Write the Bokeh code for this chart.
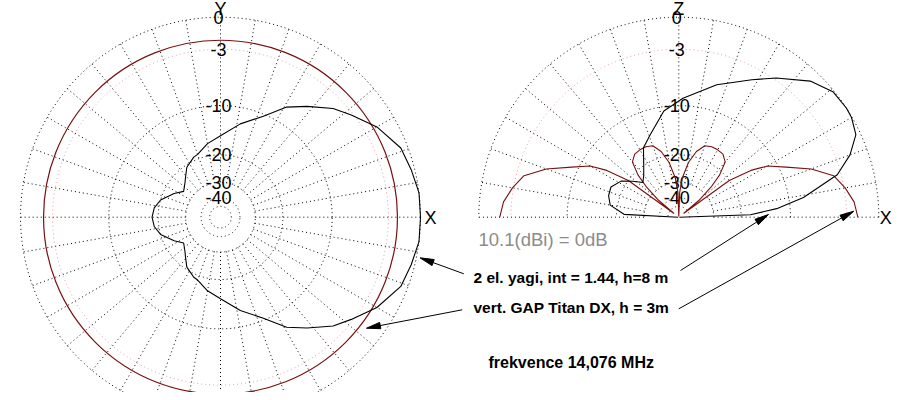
import numpy as np
from bokeh.plotting import figure
from bokeh.models import Range1d
from bokeh.core.properties import value
from bokeh.embed import file_html
from bokeh.resources import INLINE

# ---------------- data ----------------
RING_DB = [0, -3, -10, -20, -30, -40, -50]
RING_LABELS = ["0", "-3", "-10", "-20", "-30", "-40"]
SPOKE_STEP_DEG = 10

# azimuth pattern of the 2 el. yagi (deg from +X, symmetric about X)
AZ_ANGLES = [0, 7, 14, 21, 30, 38, 44, 52, 59, 67, 78, 90, 100, 110, 114,
             124, 131, 136, 145, 153, 164, 172, 180]
YAGI_AZ_DB = [0, 0, -0.3, -0.6, -1.75, -3.2, -4.2, -6.05, -7.6, -10.3, -12.7,
              -15.4, -16.9, -18.8, -19.1, -20.6, -22.7, -24.0, -25.6, -23.1,
              -20.0, -18.8, -18.4]
# azimuth pattern of the vertical (omni)
VERT_AZ_DB = -2.1

# elevation pattern of the yagi (deg from +X horizon, 0..180)
EL_ANGLES_YAGI = [0, 2, 5, 9, 15, 20, 25, 30, 33, 39, 46, 55, 62, 74, 88, 98,
                  109, 117, 124, 130, 136, 142, 148, 156, 163, 170, 177, 180]
YAGI_EL_DB = [-99, -17.6, -12.2, -7.9, -3.4, -1.6, -0.4, -0.05, 0, -0.1, -0.95,
              -2.8, -4.3, -6.4, -8.9, -10.7, -14.2, -16.2, -19.9, -22.3, -23.8,
              -21.1, -18.5, -17.0, -17.2, -18.1, -22.2, -99]

# elevation pattern of the vertical (0..90, symmetric about Z)
EL_ANGLES_VERT = [0, 5, 10, 15, 20, 25, 30, 33, 36, 38, 40, 43, 46, 50, 55,
                  60, 65, 70, 75, 80, 85, 88, 90]
VERT_EL_DB = [-1.9, -2.2, -2.9, -3.8, -6.0, -9.0, -11.5, -14.5, -20, -60, -34,
              -26, -21, -17.5, -16.4, -16.2, -16.2, -16.6, -18.5, -22, -28,
              -36, -99]

REF_TEXT = "10.1(dBi) = 0dB"
YAGI_TEXT = "2 el. yagi, int = 1.44, h=8 m"
VERT_TEXT = "vert. GAP Titan DX, h = 3m"
FREQ_TEXT = "frekvence 14,076 MHz"

# ---------------- layout ----------------
W, H = 896, 392
R = 200.0
C_AZ = (220.0, 216.7)
C_EL = (678.3, 216.7)
RED = "#7a1010"
PINK = "#e4a0a0"
FONT = value("Liberation Sans")


def rad(db):
    return R * 0.89 ** (-np.asarray(db, dtype=float) / 2.0)


def polar(c, ang_deg, r):
    a = np.radians(np.asarray(ang_deg, dtype=float))
    return c[0] + r * np.cos(a), c[1] - r * np.sin(a)


p = figure(width=W, height=H, x_range=Range1d(0, W), y_range=Range1d(H, 0),
           output_backend="svg", toolbar_location=None, min_border=0,
           x_axis_location=None, y_axis_location=None)
p.grid.visible = False
p.outline_line_color = None
p.background_fill_color = "white"
p.border_fill_color = "white"

# ---------- grids ----------
for c, full in ((C_AZ, True), (C_EL, False)):
    t = np.linspace(0, 360 if full else 180, 361)
    for db in RING_DB:
        x, y = polar(c, t, rad(db))
        p.line(x, y, line_color=PINK if db == -3 else "black",
               line_dash="1 3", line_width=1)
    angs = np.arange(0, 360 if full else 181, SPOKE_STEP_DEG)
    xs, ys = [], []
    for a in angs:
        x0, y0 = polar(c, a, rad(-30))
        x1, y1 = polar(c, a, R)
        xs.append([x0, x1])
        ys.append([y0, y1])
    p.multi_line(xs, ys, line_color="black", line_dash="1 3", line_width=1)
    # ring labels
    lx, ly = polar(c, 90, rad(RING_DB[:len(RING_LABELS)]))
    p.text(x=list(lx - 2), y=list(ly), text=RING_LABELS, text_font=FONT,
           text_font_size="18px", text_align="center", text_baseline="middle",
           text_color="black")

# axis letters (Y and Z are cut by the top edge, as in the original)
p.text(x=[C_AZ[0], C_EL[0]], y=[8.5, 8.5], text=["Y", "Z"], text_font=FONT,
       text_font_size="18px", text_align="center", text_baseline="alphabetic")
p.text(x=[C_AZ[0] + R + 10, C_EL[0] + R + 7], y=[C_AZ[1] + 1, C_EL[1] + 1],
       text=["X", "X"], text_font=FONT, text_font_size="18px",
       text_align="center", text_baseline="middle")

# ---------- patterns ----------
# vertical, azimuth (omni circle)
p.circle(x=[C_AZ[0]], y=[C_AZ[1]], radius=float(rad(VERT_AZ_DB)),
         fill_color=None, line_color=RED, line_width=1.2)

# yagi azimuth (mirror about X axis)
az_full = AZ_ANGLES + [360 - a for a in reversed(AZ_ANGLES[:-1])]
db_full = YAGI_AZ_DB + list(reversed(YAGI_AZ_DB[:-1]))
x, y = polar(C_AZ, az_full, rad(db_full))
p.line(x, y, line_color="black", line_width=1.1)

# vertical elevation (mirror about Z)
ve_ang = EL_ANGLES_VERT + [180 - a for a in reversed(EL_ANGLES_VERT[:-1])]
ve_db = VERT_EL_DB + list(reversed(VERT_EL_DB[:-1]))
x, y = polar(C_EL, ve_ang, rad(ve_db))
p.line(x, y, line_color=RED, line_width=1.1)

# yagi elevation
x, y = polar(C_EL, EL_ANGLES_YAGI, rad(YAGI_EL_DB))
p.line(x, y, line_color="black", line_width=1.1)

# ---------- texts ----------
p.text(x=[478], y=[239], text=[REF_TEXT], text_font=FONT, text_font_size="18.5px",
       text_color="#8c8c8c", text_align="left", text_baseline="middle")
p.text(x=[473, 473], y=[276.7, 306.7], text=[YAGI_TEXT, VERT_TEXT],
       text_font=FONT, text_font_size="15.5px", text_font_style="bold",
       text_color="black", text_align="left", text_baseline="middle")
p.text(x=[488], y=[361.7], text=[FREQ_TEXT],
       text_font=FONT, text_font_size="16px", text_font_style="bold",
       text_color="black", text_align="left", text_baseline="middle")

# ---------- arrows ----------
ARROWS = [((463.3, 273.3), (419.5, 257.3)),
          ((680.0, 270.0), (768.0, 214.0)),
          ((461.7, 309.3), (366.0, 327.7)),
          ((678.3, 308.3), (853.3, 210.7))]
L, HW = 14.0, 3.2
lxs, lys, hxs, hys = [], [], [], []
for (x0, y0), (x1, y1) in ARROWS:
    d = np.array([x1 - x0, y1 - y0])
    u = d / np.hypot(*d)
    n = np.array([-u[1], u[0]])
    base = np.array([x1, y1]) - L * u
    lxs.append([x0, base[0]])
    lys.append([y0, base[1]])
    hxs.append([x1, base[0] + HW * n[0], base[0] - HW * n[0]])
    hys.append([y1, base[1] + HW * n[1], base[1] - HW * n[1]])
p.multi_line(lxs, lys, line_color="black", line_width=1)
p.patches(hxs, hys, fill_color="black", line_color="black", line_width=1)

open("out.html", "w").write(file_html(p, INLINE))
